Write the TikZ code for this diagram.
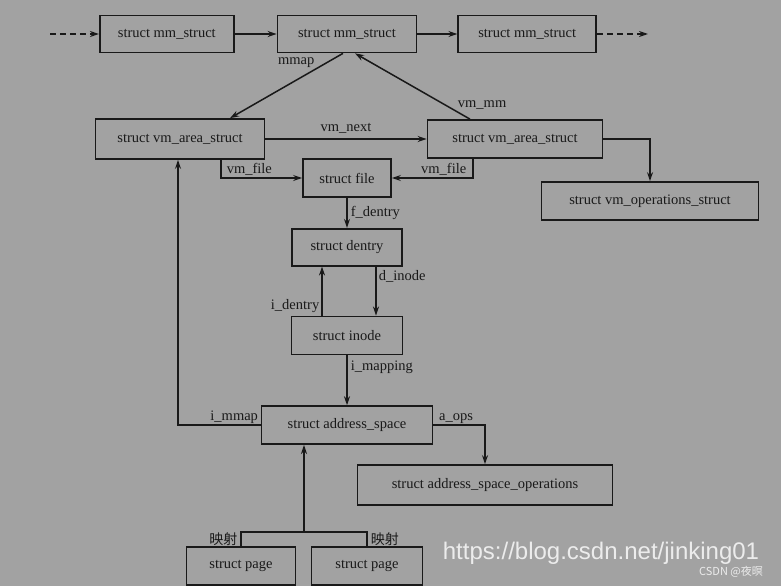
\documentclass[tikz,border=0pt]{standalone}
\usepackage{fontspec}
\setmainfont{Liberation Serif}
\newfontfamily\cjkfont{Noto Sans CJK SC}
\newfontfamily\wmfont{Liberation Sans}
\usepackage{xcolor}
\usetikzlibrary{arrows.meta,positioning,calc}
\definecolor{paper}{RGB}{162,162,162}
\definecolor{ink}{RGB}{25,25,25}

\begin{document}
\begin{tikzpicture}[
  x=1pt, y=-1pt, color=ink,
  font=\fontsize{14.5}{17}\selectfont,
  struct/.style={draw, fill=paper, line width=1.7pt, minimum height=37pt, inner sep=0pt},
  lab/.style={inner sep=1pt},
  cjk/.style={font=\cjkfont\fontsize{14}{16}\selectfont},
  wm/.style={text=white!80!paper, inner sep=0pt},
  arr/.style={-{Stealth[length=9pt, width=6pt]}, line width=1.5pt}]
  \useasboundingbox[fill=paper] (0,0) rectangle (781,586);
  % row 1: list of mm_struct
  \node[struct, minimum width=139pt] (mmB) at (347,34) {struct mm\_struct};
  \node[struct, minimum width=134pt, left=42pt of mmB] (mmA) {struct mm\_struct};
  \node[struct, minimum width=138pt, right=40pt of mmB] (mmC) {struct mm\_struct};
  \coordinate (prevmm) at (50,34);
  \coordinate (nextmm) at (648,34);
  \draw[arr, dash pattern=on 6pt off 4pt] (prevmm) -- (mmA.west);
  \draw[arr] (mmA) -- (mmB);
  \draw[arr] (mmB) -- (mmC);
  \draw[arr, dash pattern=on 6pt off 4pt] (mmC.east) -- (nextmm);
  % row 2: the vm areas
  \node[struct, minimum width=169pt, minimum height=40pt] (vmaA) at (180,139) {struct vm\_area\_struct};
  \node[struct, minimum width=175pt, minimum height=38pt] (vmaB) at (515,139) {struct vm\_area\_struct};
  \node[struct, minimum width=217pt, minimum height=38pt] (vmops) at (650,201) {struct vm\_operations\_struct};
  \draw[arr] (vmaA) -- node[lab, above=4pt]{vm\_next} (vmaB);
  \draw[arr] ([xshift=-4pt]mmB.south) -- node[lab, pos=0.15, left=10pt]{mmap} ([xshift=50pt]vmaA.north);
  \draw[arr] ([xshift=-45pt]vmaB.north) -- node[lab, pos=0.12, anchor=south west]{vm\_mm} ([xshift=8pt]mmB.south);
  \draw[arr] (vmaB.east) -| (vmops.north);
  % file, dentry, inode chain
  \node[struct, minimum width=88pt, minimum height=38pt] (file) at (347,178) {struct file};
  \node[struct, minimum width=110pt, below=30pt of file] (dentry) {struct dentry};
  \node[struct, minimum width=111pt, minimum height=38pt, below=49pt of dentry] (inode) {struct inode};
  \node[struct, minimum width=171pt, minimum height=38pt, below=50pt of inode] (aspace) {struct address\_space};
  \node[struct, minimum width=255pt, minimum height=40pt] (aops) at (485,485) {struct address\_space\_operations};
  \draw[arr] ([xshift=41pt]vmaA.south) |- node[lab, pos=0.27, right=4pt]{vm\_file} (file.west);
  \draw[arr] ([xshift=-42pt]vmaB.south) |- node[lab, pos=0.27, left=5pt]{vm\_file} (file.east);
  \draw[arr] (file) -- node[lab, right=2pt]{f\_dentry} (dentry);
  \draw[arr] ([xshift=29pt]dentry.south) -- node[lab, pos=0.2, right=1pt]{d\_inode} ([xshift=29pt]inode.north);
  \draw[arr] ([xshift=-25pt]inode.north) -- node[lab, pos=0.2, left=1pt]{i\_dentry} ([xshift=-25pt]dentry.south);
  \draw[arr] (inode) -- node[lab, pos=0.25, right=2pt]{i\_mapping} (aspace);
  \draw[arr] (aspace.west) -| node[lab, pos=0.16, above]{i\_mmap} ([xshift=-2pt]vmaA.south);
  \draw[arr] (aspace.east) -| node[lab, pos=0.22, above]{a\_ops} (aops.north);
  % pages mapped into the address space
  \node[struct, minimum width=109pt, minimum height=38pt] (pageA) at (241,566) {struct page};
  \node[struct, minimum width=111pt, minimum height=38pt] (pageB) at (367,566) {struct page};
  \draw[line width=1.5pt] (pageA.north) -- node[lab, cjk, left=2pt]{映射} ++(0,-14)
    -| node[lab, cjk, pos=0.75, right=2pt]{映射} (pageB.north);
  \coordinate (pgjoin) at ($(pageA.north)!0.5!(pageB.north)+(0,-14)$);
  \draw[arr] (pgjoin) -- (pgjoin |- aspace.south);
  % watermark
  \node[wm, font=\wmfont\fontsize{24}{28}\selectfont] (wmurl) at (601,553) {https://blog.csdn.net/jinking01};
  \node[wm, font=\cjkfont\fontsize{11}{13}\selectfont] (wmname) at (731,572) {CSDN @夜暝};
\end{tikzpicture}
\end{document}
